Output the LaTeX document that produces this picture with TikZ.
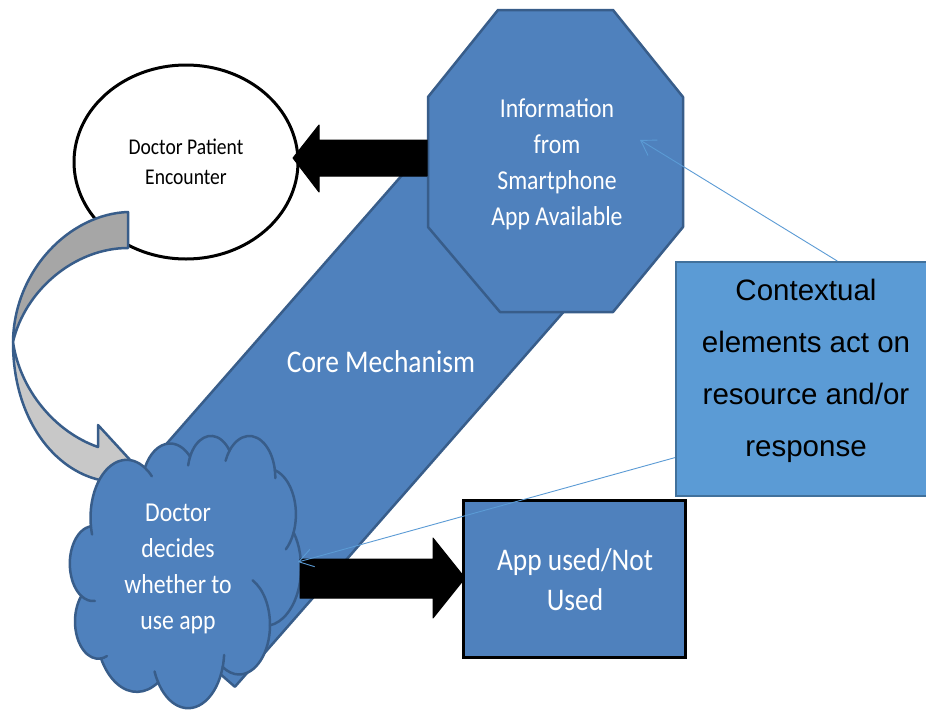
\documentclass[tikz,border=0pt]{standalone}
\usepackage{fontspec}
\newfontfamily\calfont[FakeStretch=0.87]{Carlito}
\newfontfamily\arfont{Liberation Sans}
\usetikzlibrary{shapes.geometric,arrows.meta,calc}
\definecolor{shapeblue}{HTML}{4F81BD}
\definecolor{edgeblue}{HTML}{385D8A}
\definecolor{ctxblue}{HTML}{5B9BD5}
\definecolor{ctxedge}{HTML}{41719C}
\definecolor{linkblue}{HTML}{5B9BD5}
\definecolor{greydark}{HTML}{A6A6A6}
\definecolor{greylight}{HTML}{C8C8C8}
\begin{document}
\begin{tikzpicture}[x=1pt,y=-1pt,
  blueshape/.style={fill=shapeblue,draw=edgeblue,line width=2.5pt,line join=round},
  puffline/.style={draw=edgeblue,line width=2.5pt,line cap=round},
  whitetext/.style={text=white,font=\calfont\fontsize{27.3}{36}\selectfont,align=center,inner sep=0pt},
  fatarrow/.style={fill=black,draw=black,line width=1pt,line join=round},
  ribbon/.style={draw=edgeblue,line width=2.5pt,line join=round},
  callout/.style={draw=linkblue,line width=0.9pt,-{Straight Barb[length=14pt,width=18pt]}},
]
\clip (0,0) rectangle (926,710);
\fill[white] (0,0) rectangle (926,710);

% diagonal band carrying the core mechanism
\path[blueshape] (75.8,547.3) -- (234.9,686.8) -- (634.8,230.6) -- (475.7,91.1) -- cycle;
\node[whitetext,font=\calfont\fontsize{31.6}{36}\selectfont] (core) at (381,362) {Core Mechanism};

% encounter ellipse
\node[ellipse,draw=black,line width=3pt,fill=white,minimum width=224pt,minimum height=194pt,
      inner sep=0pt,align=center,font=\calfont\fontsize{22.5}{30}\selectfont] (enc) at (186,162)
      {Doctor Patient\\Encounter};

% curved grey arrow from the encounter to the decision
\path[ribbon,fill=greydark] (128,212) .. controls (70,214) and (14,270) .. (13,342)
      .. controls (25,290) and (75,248) .. (128,248) -- cycle;
\path[ribbon,fill=greylight] (13,342) .. controls (13,420) and (55,470) .. (100,480)
      -- (100,492) -- (132,462) -- (98,425) -- (98,447)
      .. controls (55,432) and (20,390) .. (13,342) -- cycle;

% decision cloud, built from elliptic puffs in a 432 x 432 frame
\begin{scope}[shift={(70,435)},x=0.5347pt,y=-0.630pt]
  \path[blueshape] (39.00,143.70)
    arc[start angle=-187.75,end angle=-59.63,x radius=67.53,y radius=91.90]
    arc[start angle=-152.03,end angle=-45.42,x radius=53.33,y radius=72.67]
    arc[start angle=-153.48,end angle=-37.33,x radius=43.65,y radius=59.45]
    arc[start angle=-139.69,end angle=-10.21,x radius=48.57,y radius=65.95]
    arc[start angle=-74.77,end angle=23.21,x radius=53.33,y radius=72.73]
    arc[start angle=-37.53,end angle=81.86,x radius=67.75,y radius=92.20]
    arc[start angle=0.46,end angle=121.98,x radius=57.85,y radius=78.67]
    arc[start angle=16.84,end angle=146.26,x radius=67.52,y radius=92.15]
    arc[start angle=58.99,end angle=150.20,x radius=77.20,y radius=105.43]
    arc[start angle=-276.69,end angle=-136.89,x radius=43.60,y radius=59.18]
    arc[start angle=-239.64,end angle=-95.89,x radius=43.45,y radius=59.45]
    -- cycle;
  % inner puff creases
  \draw[puffline] (43.08,204.18) ++(85.54:43.45 and 59.45)
    arc[start angle=85.54,end angle=120.36,x radius=43.45,y radius=59.45];
  \draw[puffline] (52.95,295.93) ++(68.24:43.60 and 59.18)
    arc[start angle=68.24,end angle=83.31,x radius=43.60,y radius=59.18];
  \draw[puffline] (220.94,341.49) ++(146.26:67.52 and 92.15)
    arc[start angle=146.26,end angle=158.47,x radius=67.52,y radius=92.15];
  \draw[puffline] (220.94,341.49) ++(4.74:67.52 and 92.15)
    arc[start angle=4.74,end angle=16.84,x radius=67.52,y radius=92.15];
  \draw[puffline] (316.20,301.46) ++(-64.02:57.85 and 78.67)
    arc[start angle=-64.02,end angle=0.46,x radius=57.85,y radius=78.67];
  \draw[puffline] (369.18,126.00) ++(23.21:53.33 and 72.73)
    arc[start angle=23.21,end angle=49.66,x radius=53.33,y radius=72.73];
  \draw[puffline] (335.39,67.51) ++(-10.21:48.57 and 65.95)
    arc[start angle=-10.21,end angle=0.82,x radius=48.57,y radius=65.95];
  \draw[puffline] (335.39,67.51) ++(-156.29:48.57 and 65.95)
    arc[start angle=-156.29,end angle=-139.69,x radius=48.57,y radius=65.95];
  \draw[puffline] (263.65,60.90) ++(-167.72:43.65 and 59.45)
    arc[start angle=-167.72,end angle=-153.48,x radius=43.65,y radius=59.45];
  \draw[puffline] (105.91,131.31) ++(-59.63:67.53 and 91.90)
    arc[start angle=-59.63,end angle=-45.75,x radius=67.53,y radius=91.90];
  \draw[puffline] (105.91,131.31) ++(163.19:67.53 and 91.90)
    arc[start angle=163.19,end angle=172.25,x radius=67.53,y radius=91.90];
  \coordinate (cloud) at (216,216);
\end{scope}
\node[whitetext] (cloudtext) at (178,569) {Doctor\\decides\\whether to\\use app};

% information octagon
\path[blueshape] (498,10) -- (613,10) -- (683,97) -- (683,227) -- (613,312) -- (500,312)
      -- (428,227) -- (428,97) -- cycle;
\node[whitetext] (info) at (557,164) {Information\\from\\Smartphone\\App Available};

% block arrows
\path[fatarrow] (427,140) -- (319,140) -- (319,125) -- (293,158) -- (319,192) -- (319,176)
      -- (427,176) -- cycle;
\path[fatarrow] (300,559) -- (433,559) -- (433,538) -- (465,578) -- (433,618) -- (433,598)
      -- (300,598) -- cycle;

% outcome box
\node[draw=black,line width=3pt,fill=shapeblue,minimum width=222pt,minimum height=157pt,
      inner sep=0pt] (app) at (574,578.5) {};
\node[whitetext,font=\calfont\fontsize{31.5}{40}\selectfont] (apptext) at (575,580) {App used/Not\\Used};

% context box
\node[draw=ctxedge,fill=ctxblue,line width=2pt,minimum width=264pt,minimum height=234pt,
      inner sep=0pt] (ctx) at (808,379) {};
\node[align=center,font=\arfont\fontsize{29.5}{52}\selectfont,inner sep=0pt] (ctxtext) at (806,371)
      {Contextual\\elements act on\\resource and/or\\response};

% callout lines
\coordinate (infopt) at (640,140);
\coordinate (cloudpt) at (298,562);
\draw[callout] ($(ctx.north west)!0.61!(ctx.north east)$) -- (infopt);
\draw[callout] ($(ctx.north west)!0.833!(ctx.south west)$) -- (cloudpt);
\end{tikzpicture}
\end{document}
